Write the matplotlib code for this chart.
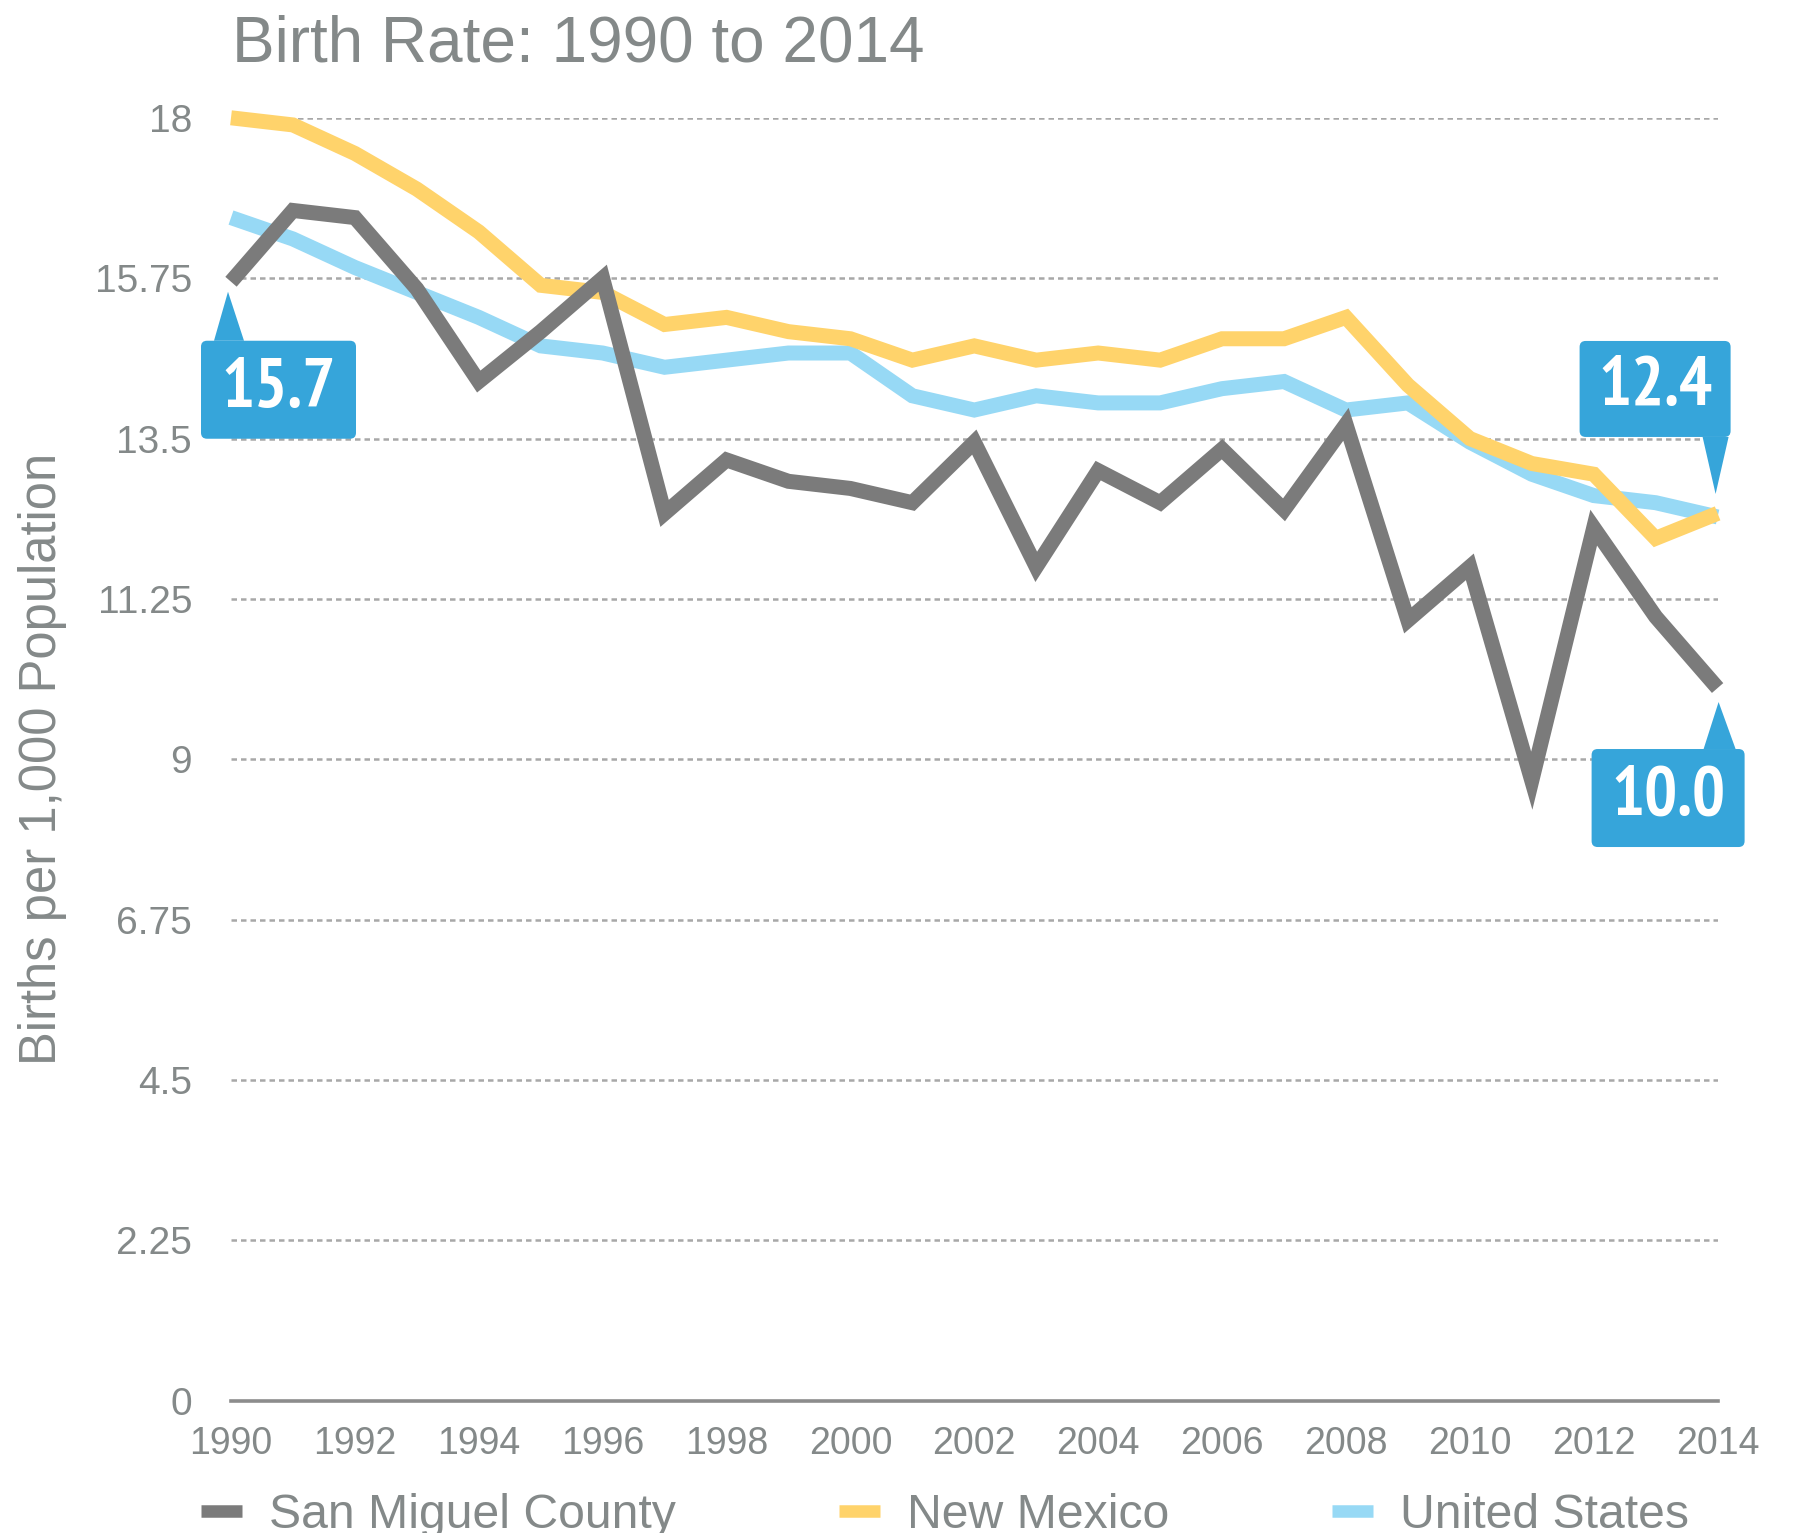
import os
import matplotlib
matplotlib.use("Agg")
import matplotlib.pyplot as plt
from matplotlib import font_manager as fm
from matplotlib.patches import FancyBboxPatch, Polygon
from matplotlib.lines import Line2D
from matplotlib.transforms import IdentityTransform

years = list(range(1990, 2015))
san_miguel = [15.7, 16.7, 16.6, 15.6, 14.3, 15.0, 15.75, 12.45, 13.2, 12.9, 12.8, 12.6, 13.45,
              11.7, 13.05, 12.6, 13.35, 12.5, 13.7, 10.95, 11.7, 8.7, 12.25, 11.0, 10.0]
new_mexico = [18.0, 17.9, 17.5, 17.0, 16.4, 15.65, 15.55, 15.1, 15.2, 15.0, 14.9, 14.6, 14.8,
              14.6, 14.7, 14.6, 14.9, 14.9, 15.2, 14.25, 13.5, 13.15, 13.0, 12.1, 12.45]
united_states = [16.6, 16.3, 15.9, 15.55, 15.2, 14.8, 14.7, 14.5, 14.6, 14.7, 14.7, 14.1, 13.9,
                 14.1, 14.0, 14.0, 14.2, 14.3, 13.9, 14.0, 13.45, 13.0, 12.7, 12.6, 12.4]
series_names = ["San Miguel County", "New Mexico", "United States"]
y_ticks = [0, 2.25, 4.5, 6.75, 9, 11.25, 13.5, 15.75, 18]
y_tick_labels = ["0", "2.25", "4.5", "6.75", "9", "11.25", "13.5", "15.75", "18"]
x_ticks = list(range(1990, 2015, 2))
callouts = [(1990, 15.7, "15.7"), (2014, 12.4, "12.4"), (2014, 10.0, "10.0")]

GRAY = "#7b7b7b"
YELLOW = "#ffd36b"
BLUE = "#97d9f5"
CALLOUT = "#36a5da"
TEXT = "#848989"

plt.rcParams['font.family'] = ['Liberation Sans', 'DejaVu Sans']


def _weight(w):
    try:
        return int(w)
    except (TypeError, ValueError):
        return {"bold": 700, "heavy": 800, "black": 900, "semibold": 600,
                "demibold": 600, "extra bold": 800, "ultrabold": 800}.get(str(w).lower(), 400)


def pick_condensed_bold():
    best, best_score = None, None
    for f in fm.fontManager.ttflist:
        base = os.path.basename(f.fname).lower()
        name = f.name.lower()
        if "italic" in base or "oblique" in base or f.style != "normal":
            continue
        if "mono" in name or ("serif" in name and "sans" not in name):
            continue
        w = _weight(f.weight)
        if w < 600 or w > 800:
            continue
        tag = (name + " " + base + " " + str(f.stretch)).replace(" ", "").replace("-", "")
        if "narrow" in tag:
            rank = 0
        elif "extracondensed" in tag:
            rank = 1
        elif "semicondensed" in tag:
            rank = 3
        elif "condensed" in tag:
            rank = 2
        else:
            continue
        score = (rank, abs(w - 700))
        if best_score is None or score < best_score:
            best, best_score = f, score
    return best


cf = pick_condensed_bold()
if cf is not None:
    callout_prop = fm.FontProperties(fname=cf.fname, size=50)
else:
    callout_prop = fm.FontProperties(family="Liberation Sans", weight="bold", size=42)

W, H = 1793, 1533
fig = plt.figure(figsize=(W / 100, H / 100), dpi=100)
left, right, top, bottom = 231, 1717.6, 117.8, 1400.8
ax = fig.add_axes([left / W, 1 - bottom / H, (right - left) / W, (bottom - top) / H])
ax.set_xlim(1990, 2014)
ax.set_ylim(0, 18)

for s in ax.spines.values():
    s.set_visible(False)

for yt in y_ticks[1:]:
    ax.axhline(yt, color="#a8a8a8", lw=1.8, ls=(0, (2.2, 1.6)), zorder=1)
ax.axhline(0, color="#8c8c8c", lw=2.6, zorder=1, clip_on=False)

lw = 10.8
kw = dict(lw=lw, clip_on=False, solid_joinstyle="miter", solid_capstyle="butt")
ax.plot(years, united_states, color=BLUE, zorder=3, **kw)
ax.plot(years, new_mexico, color=YELLOW, zorder=4, **kw)
ax.plot(years, san_miguel, color=GRAY, zorder=5, **kw)

ax.set_yticks(y_ticks)
ax.set_yticklabels(y_tick_labels)
ax.set_xticks(x_ticks)
ax.set_xticklabels([str(x) for x in x_ticks])
ax.tick_params(axis="y", length=0, pad=28, labelsize=28, labelcolor=TEXT)
ax.tick_params(axis="x", length=0, pad=18, labelsize=27, labelcolor=TEXT)

fig.text(232 / W, 1 - 61 / H, "Birth Rate: 1990 to 2014", fontsize=46, color=TEXT,
         ha="left", va="baseline")
fig.text(43 / W, 1 - 759 / H, "Births per 1,000 Population", fontsize=36.5, color=TEXT,
         rotation=90, ha="center", va="center")

# callouts: offsets in pixels (y down) relative to data point
geoms = {
    "15.7": dict(tip=(-3, 10), base=(-17, 13, 59), box=(-30, 125, 59, 157)),
    "12.4": dict(tip=(-2, -23), base=(-15, 11, -80), box=(-138, 13, -176, -80)),
    "10.0": dict(tip=(1, 14), base=(-14, 18, 61), box=(-126, 27, 61, 159)),
}
ident = IdentityTransform()
for (yr, val, label) in callouts:
    px, py = ax.transData.transform((yr, val))
    g = geoms[label]
    tx, ty = px + g["tip"][0], py - g["tip"][1]
    b0, b1, by = g["base"]
    x0, x1, y0, y1 = g["box"]
    tri = Polygon([(tx, ty), (px + b0, py - by), (px + b1, py - by)], closed=True,
                  facecolor=CALLOUT, edgecolor="none", transform=ident, zorder=10)
    fig.add_artist(tri)
    r = 6
    box = FancyBboxPatch((px + x0 + r, py - y1 + r), (x1 - x0) - 2 * r, (y1 - y0) - 2 * r,
                         boxstyle=f"round,pad={r},rounding_size={r}",
                         facecolor=CALLOUT, edgecolor="none", transform=ident, zorder=10)
    fig.add_artist(box)
    fig.text((px + (x0 + x1) / 2) / W, (py - y1 + 32) / H, label,
             fontproperties=callout_prop, color="white", ha="center", va="baseline", zorder=11)

handles = [Line2D([], [], color=c, lw=9, solid_capstyle="butt") for c in (GRAY, YELLOW, BLUE)]
fig.legend(handles, series_names, loc="center left", bbox_to_anchor=(201 / W, 1 - 1515 / H),
           ncol=3, frameon=False, fontsize=34.7, labelcolor=TEXT, handlelength=0.85,
           handletextpad=0.56, columnspacing=3.38, borderaxespad=0, borderpad=0)

fig.savefig("out.png", dpi=100)
